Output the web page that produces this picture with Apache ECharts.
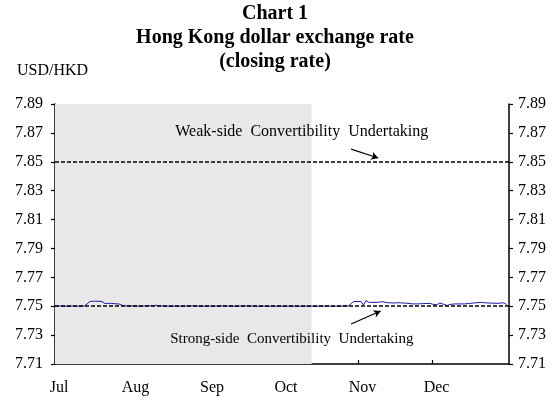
<!DOCTYPE html>
<html>
<head>
<meta charset="utf-8">
<script src="https://cdn.jsdelivr.net/npm/echarts@6/dist/echarts.min.js"></script>
<style>html,body{margin:0;padding:0;background:#fff}#c{width:557px;height:401px}</style>
</head>
<body>
<div id="c"></div>
<script>
// Dates (closing rate observations)
var dates = [
 '2009-07-01','2009-07-03','2009-07-06','2009-07-08','2009-07-10','2009-07-13','2009-07-14','2009-07-15','2009-07-16','2009-07-17',
 '2009-07-20','2009-07-21','2009-07-22','2009-07-23','2009-07-24','2009-07-27','2009-07-28','2009-07-29','2009-07-31',
 '2009-08-03','2009-08-05','2009-08-07','2009-08-10','2009-08-11','2009-08-12','2009-08-14','2009-08-17','2009-08-19','2009-08-21',
 '2009-08-24','2009-08-26','2009-08-28','2009-08-31',
 '2009-09-02','2009-09-04','2009-09-07','2009-09-09','2009-09-11','2009-09-14','2009-09-16','2009-09-18','2009-09-21','2009-09-23',
 '2009-09-25','2009-09-28','2009-09-30',
 '2009-10-02','2009-10-05','2009-10-07','2009-10-09','2009-10-12','2009-10-14','2009-10-16','2009-10-19','2009-10-21','2009-10-23',
 '2009-10-26','2009-10-28','2009-10-29','2009-10-30',
 '2009-11-02','2009-11-03','2009-11-04','2009-11-05','2009-11-06','2009-11-09','2009-11-10','2009-11-11','2009-11-12','2009-11-13',
 '2009-11-16','2009-11-17','2009-11-18','2009-11-20','2009-11-23','2009-11-25','2009-11-27','2009-11-30',
 '2009-12-01','2009-12-02','2009-12-03','2009-12-04','2009-12-07','2009-12-08','2009-12-10','2009-12-14','2009-12-16','2009-12-18',
 '2009-12-21','2009-12-22','2009-12-24','2009-12-28','2009-12-29','2009-12-30','2009-12-31'
];
var rates = [
 7.7500,7.7501,7.7500,7.7501,7.7500,7.7502,7.7515,7.7533,7.7534,7.7535,
 7.7533,7.7521,7.7518,7.7520,7.7519,7.7515,7.7508,7.7503,7.7502,
 7.7501,7.7500,7.7502,7.7504,7.7507,7.7503,7.7501,7.7500,7.7501,7.7500,
 7.7501,7.7502,7.7501,7.7500,
 7.7501,7.7500,7.7502,7.7501,7.7500,7.7501,7.7502,7.7501,7.7500,7.7501,
 7.7500,7.7500,7.7501,
 7.7500,7.7501,7.7500,7.7500,7.7501,7.7500,7.7500,7.7501,7.7500,7.7500,
 7.7501,7.7502,7.7518,7.7532,
 7.7533,7.7508,7.7539,7.7528,7.7526,7.7527,7.7531,7.7530,7.7527,7.7524,
 7.7522,7.7525,7.7523,7.7522,7.7516,7.7516,7.7518,7.7520,
 7.7514,7.7512,7.7513,7.7522,7.7505,7.7512,7.7516,7.7516,7.7519,7.7523,
 7.7527,7.7524,7.7522,7.7520,7.7524,7.7522,7.7512
];
var weakSide = 7.85;
var strongSide = 7.75;
var shadeRange = ['2009-07-01', '2009-10-13'];
var xRange = ['2009-07-01', '2010-01-01'];
var yMin = 7.71, yMax = 7.89, yStep = 0.02;
var monthNames = ['Jan','Feb','Mar','Apr','May','Jun','Jul','Aug','Sep','Oct','Nov','Dec'];
var weakLabel = 'Weak-side  Convertibility  Undertaking';
var strongLabel = 'Strong-side  Convertibility  Undertaking';
var weakText = ['2009-10-09', 7.8706];
var weakArrow = [['2009-10-29', 7.8588], ['2009-11-09', 7.8526]];
var strongText = ['2009-10-05', 7.7273];
var strongArrow = [['2009-10-29', 7.7377], ['2009-11-10', 7.7467]];

var seriesData = dates.map(function (d, i) { return [d, rates[i]]; });
var FONT = 'Liberation Serif';

function yAxisDef(pos) {
  return {
    type: 'value', position: pos, min: yMin, max: yMax, interval: yStep,
    axisLine: { show: true, lineStyle: { color: '#000', width: 1.5 } },
    axisTick: { show: true, inside: false, length: 4, lineStyle: { color: '#000', width: 1.2 } },
    axisLabel: { color: '#000', fontFamily: FONT, fontSize: 16, margin: pos === 'left' ? 12 : 9,
      formatter: function (v) { return v.toFixed(2); } },
    splitLine: { show: false }
  };
}

var chart = echarts.init(document.getElementById('c'), null, { renderer: 'canvas' });
chart.setOption({
  animation: false,
  backgroundColor: '#fff',
  title: {
    text: 'Chart 1\nHong Kong dollar exchange rate\n(closing rate)',
    left: 270, top: -3, textAlign: 'center',
    textStyle: { fontFamily: FONT, fontWeight: 'bold', fontSize: 20, lineHeight: 24, color: '#000' }
  },
  graphic: [{
    type: 'text', left: 17, top: 63,
    style: { text: 'USD/HKD', font: '16px "Liberation Serif"', fill: '#000' }
  }],
  grid: { left: 55, right: 48, top: 104, bottom: 37, containLabel: false },
  xAxis: {
    type: 'time', min: xRange[0], max: xRange[1],
    minInterval: 28 * 86400000, maxInterval: 31 * 86400000,
    axisLine: { show: true, lineStyle: { color: '#000', width: 1.5 } },
    axisTick: { show: true, inside: true, length: 4, lineStyle: { color: '#000', width: 1.2 } },
    axisLabel: { color: '#000', fontFamily: FONT, fontSize: 16, margin: 16, padding: [0, 0, 0, 8],
      showMaxLabel: false,
      formatter: function (v) { var d = new Date(v); var m = d.getMonth(); return m === 0 ? '' : monthNames[m]; } },
    splitLine: { show: false }
  },
  yAxis: [yAxisDef('left'), yAxisDef('right')],
  series: [{
    type: 'line', data: seriesData, showSymbol: false, symbol: 'none',
    lineStyle: { color: '#1a1aa6', width: 1 },
    z: 3,
    markArea: {
      silent: true,
      itemStyle: { color: '#e8e8e8' },
      data: [[{ xAxis: shadeRange[0] }, { xAxis: shadeRange[1] }]]
    },
    markLine: {
      silent: true, symbol: ['none', 'none'],
      label: { show: false },
      lineStyle: { color: '#000', type: [4, 2], width: 1.5 },
      data: [{ yAxis: weakSide }, { yAxis: strongSide }]
    }
  }, {
    type: 'line', data: [], z: 5,
    markPoint: {
      silent: true, symbol: 'circle', symbolSize: 0,
      label: { show: true, position: 'inside', color: '#000', fontFamily: FONT, fontSize: 15 },
      data: [
        { coord: weakText, label: { formatter: weakLabel, fontSize: 16 } },
        { coord: strongText, label: { formatter: strongLabel } }
      ]
    },
    markLine: {
      silent: true, symbol: ['none', 'arrow'], symbolSize: [6, 7],
      label: { show: false },
      lineStyle: { color: '#000', type: 'solid', width: 1.2 },
      data: [
        [{ coord: weakArrow[0] }, { coord: weakArrow[1] }],
        [{ coord: strongArrow[0] }, { coord: strongArrow[1] }]
      ]
    }
  }]
});
</script>
</body>
</html>
